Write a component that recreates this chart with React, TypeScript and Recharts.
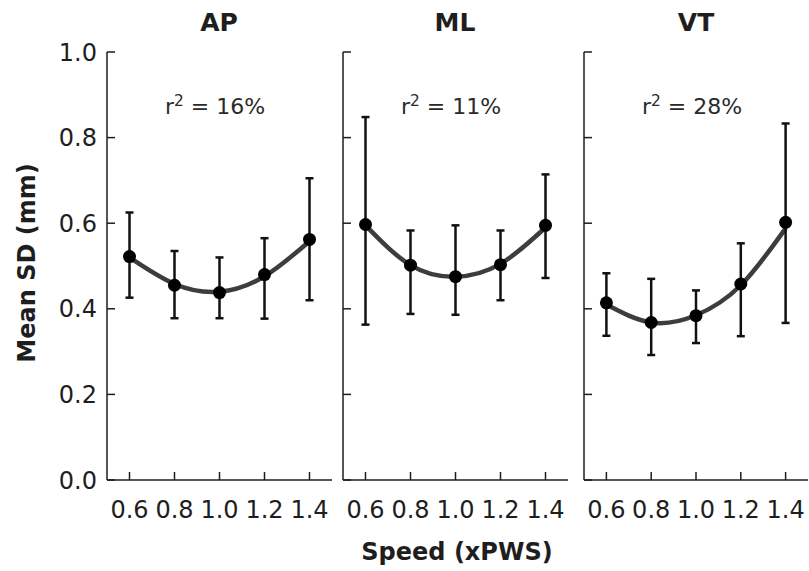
import { ComposedChart, Line, Scatter, ErrorBar, XAxis, YAxis } from "recharts"

const SPEEDS = [0.6, 0.8, 1.0, 1.2, 1.4]
const X_TICKS = [0.6, 0.8, 1.0, 1.2, 1.4]
const Y_TICKS = [0, 0.2, 0.4, 0.6, 0.8, 1.0]

// AP
const AP_MEAN = [0.522, 0.455, 0.438, 0.48, 0.562]
const AP_UPPER = [0.625, 0.535, 0.52, 0.565, 0.705]
const AP_LOWER = [0.426, 0.378, 0.378, 0.377, 0.42]
const AP_FIT = [0.52, 0.458, 0.44, 0.476, 0.558]

// ML
const ML_MEAN = [0.597, 0.502, 0.475, 0.503, 0.595]
const ML_UPPER = [0.848, 0.583, 0.595, 0.583, 0.714]
const ML_LOWER = [0.363, 0.388, 0.386, 0.42, 0.472]
const ML_FIT = [0.595, 0.502, 0.475, 0.505, 0.59]

// VT
const VT_MEAN = [0.414, 0.368, 0.384, 0.458, 0.602]
const VT_UPPER = [0.483, 0.47, 0.443, 0.553, 0.833]
const VT_LOWER = [0.337, 0.292, 0.32, 0.336, 0.367]
const VT_FIT = [0.41, 0.368, 0.385, 0.455, 0.588]

const PANEL_TITLES = ["AP", "ML", "VT"]
const R_SQUARED = ["16%", "11%", "28%"]

const FONT = "'DejaVu Sans', sans-serif"
const INK = "#1e1e1e"
const TICK_LEN = 8
const Y_GAP = 10
const X_GAP = 20

function buildRows(mean: number[], upper: number[], lower: number[], fit: number[]) {
  return SPEEDS.map((s, i) => ({
    speed: s,
    mean: mean[i],
    err: [mean[i] - lower[i], upper[i] - mean[i]],
    fit: fit[i],
  }))
}

const PANELS = [
  { rows: buildRows(AP_MEAN, AP_UPPER, AP_LOWER, AP_FIT), left: 0, width: 340, axisWidth: 107, right: 8, labels: true, center: 219, rCenter: 215 },
  { rows: buildRows(ML_MEAN, ML_UPPER, ML_LOWER, ML_FIT), left: 335, width: 236, axisWidth: 8, right: 3, labels: false, center: 455, rCenter: 451 },
  { rows: buildRows(VT_MEAN, VT_UPPER, VT_LOWER, VT_FIT), left: 576, width: 233, axisWidth: 8, right: 1, labels: false, center: 696, rCenter: 692 },
]

const Dot = (p: any) => <circle cx={p.cx} cy={p.cy} r={6.5} fill="#000" />

// ticks point inwards, so draw the tick line inside the custom tick
function YTick({ x, y, payload, labels }: any) {
  const ax = x + Y_GAP
  return (
    <g>
      <line x1={ax} x2={ax + TICK_LEN} y1={y} y2={y} stroke={INK} strokeWidth={1.5} />
      {labels && (
        <text x={x} y={y} dy="0.36em" textAnchor="end" fill={INK} fontSize={24} fontFamily={FONT}>
          {payload.value.toFixed(1)}
        </text>
      )}
    </g>
  )
}

function XTick({ x, y, payload }: any) {
  const ay = y - X_GAP
  return (
    <g>
      <line x1={x} x2={x} y1={ay} y2={ay - TICK_LEN} stroke={INK} strokeWidth={1.5} />
      <text x={x} y={y} dy="0.75em" textAnchor="middle" fill={INK} fontSize={24} fontFamily={FONT}>
        {payload.value.toFixed(1)}
      </text>
    </g>
  )
}

function Panel({ rows, width, axisWidth, right, labels }: any) {
  return (
    <ComposedChart width={width} height={571} data={rows} margin={{ top: 52, right, bottom: 0, left: 0 }}>
      <XAxis
        type="number"
        dataKey="speed"
        domain={[0.5, 1.5]}
        ticks={X_TICKS}
        interval={0}
        tickLine={false}
        tickSize={0}
        tickMargin={X_GAP}
        height={91}
        stroke={INK}
        strokeWidth={1.5}
        tick={<XTick />}
      />
      <YAxis
        type="number"
        domain={[0, 1]}
        ticks={Y_TICKS}
        interval={0}
        tickLine={false}
        tickSize={0}
        tickMargin={Y_GAP}
        width={axisWidth}
        stroke={INK}
        strokeWidth={1.5}
        tick={<YTick labels={labels} />}
      />
      <Line dataKey="fit" type="natural" stroke="#3d3d3d" strokeWidth={4.5} dot={false} isAnimationActive={false} />
      <Scatter dataKey="mean" shape={Dot} isAnimationActive={false}>
        <ErrorBar dataKey="err" direction="y" width={4} stroke="#111" strokeWidth={2.5} />
      </Scatter>
    </ComposedChart>
  )
}

export default function App() {
  return (
    <div style={{ position: "absolute", left: 0, top: 0, width: 809, height: 571, background: "#fff", fontFamily: FONT, color: INK }}>
      {PANELS.map((p, i) => (
        <div key={i} style={{ position: "absolute", left: p.left, top: 0 }}>
          <Panel {...p} />
        </div>
      ))}
      {PANELS.map((p, i) => (
        <div key={"t" + i} style={{ position: "absolute", left: p.center - 60, width: 120, top: 8, textAlign: "center", fontSize: 25, fontWeight: "bold", lineHeight: "30px" }}>
          {PANEL_TITLES[i]}
        </div>
      ))}
      {PANELS.map((p, i) => (
        <div key={"r" + i} style={{ position: "absolute", left: p.rCenter - 80, width: 160, top: 92, textAlign: "center", fontSize: 22, lineHeight: "30px", color: "#2a2a2a" }}>
          r<sup style={{ fontSize: "0.7em", lineHeight: 0 }}>2</sup> = {R_SQUARED[i]}
        </div>
      ))}
      <div style={{ position: "absolute", left: 27 - 120, top: 263 - 15, width: 240, height: 30, textAlign: "center", fontSize: 24, fontWeight: "bold", lineHeight: "30px", transform: "rotate(-90deg)" }}>
        Mean SD (mm)
      </div>
      <div style={{ position: "absolute", left: 457 - 120, top: 537, width: 240, textAlign: "center", fontSize: 24, fontWeight: "bold", lineHeight: "30px" }}>
        Speed (xPWS)
      </div>
    </div>
  )
}
